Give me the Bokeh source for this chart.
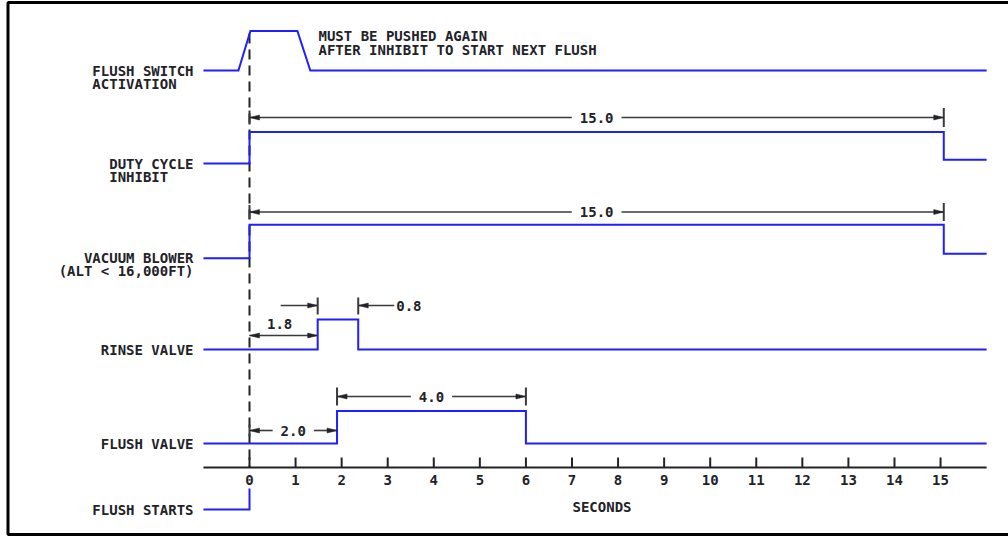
from bokeh.plotting import figure
from bokeh.models import Range1d
from bokeh.core.properties import value
from bokeh.embed import file_html
from bokeh.resources import INLINE

# ---------------- data (seconds / logic level) ----------------
flush_switch_t = [-1.0, -0.24, 0.02, 1.04, 1.32, 16.0]
flush_switch_v = [0, 0, 1, 1, 0, 0]
duty_cycle_t = [-1.0, 0.0, 0.0, 15.07, 15.07, 16.0]
duty_cycle_v = [0, 0, 1, 1, 0.12, 0.12]
vacuum_blower_t = [-1.0, 0.0, 0.0, 15.07, 15.07, 16.0]
vacuum_blower_v = [0, 0, 1, 1, 0.13, 0.13]
rinse_valve_t = [-1.0, 1.48, 1.48, 2.36, 2.36, 16.0]
rinse_valve_v = [0, 0, 1, 1, 0, 0]
flush_valve_t = [-1.0, 1.9, 1.9, 6.0, 6.0, 16.0]
flush_valve_v = [0, 0, 1, 1, 0, 0]
flush_starts_t = [-1.0, 0.0, 0.0]
flush_starts_v = [0, 0, 1]

signal_labels = [
    ["FLUSH SWITCH", "ACTIVATION"],
    ["DUTY CYCLE", "INHIBIT"],
    ["VACUUM BLOWER", "(ALT < 16,000FT)"],
    ["RINSE VALVE"],
    ["FLUSH VALVE"],
    ["FLUSH STARTS"],
]

tick_values = [0, 1, 2, 3, 4, 5, 6, 7, 8, 9, 10, 11, 12, 13, 14, 15]
tick_labels = ["0", "1", "2", "3", "4", "5", "6", "7", "8", "9",
               "10", "11", "12", "13", "14", "15"]
axis_start, axis_end = -1.0, 16.0
x_title = "SECONDS"

# dimensions: (start s, end s, label)
dim_duty = (0.0, 15.07, "15.0")
dim_vacuum = (0.0, 15.07, "15.0")
dim_rinse_on = (0.0, 1.48, "1.8")
dim_rinse_len = (1.48, 2.36, "0.8")
dim_flush_delay = (0.0, 1.9, "2.0")
dim_flush_len = (1.9, 6.0, "4.0")

note_lines = ["MUST BE PUSHED AGAIN", "AFTER INHIBIT TO START NEXT FLUSH"]

# ---------------- layout ----------------
W, H = 1008, 536
PX = 46.07          # pixels per second
X0 = 249.0          # pixel of t = 0


def sx(px):
    return (px - X0) / PX


BLUE = "#1f1fff"
INK = "#222228"
DIM = "#3a3a3a"
FONT = "DejaVu Sans Mono"
FS = 14
CW = 0.602 * FS     # monospace advance

p = figure(width=W, height=H, output_backend="svg", toolbar_location=None,
           x_range=Range1d(sx(0), sx(W)), y_range=Range1d(H, 0),
           x_axis_type=None, y_axis_type=None, min_border=0,
           outline_line_color=None, background_fill_color="white")
p.grid.visible = False

# frame border (left, top, bottom)
p.line(x=[sx(1015), sx(7.5), sx(7.5), sx(1015)], y=[2, 2, 534, 534],
       line_color="black", line_width=3)

# dashed reference line at t = 0 (drawn beneath the signals)
p.line(x=[0, 0], y=[33, 467], line_color=INK, line_width=2, line_dash="10 6")

# rows: (times, values, baseline px, amplitude px, label, 2nd-line align)
rows = [
    (flush_switch_t, flush_switch_v, 70.0, 39.5, signal_labels[0], "left"),
    (duty_cycle_t, duty_cycle_v, 163.0, 31.5, signal_labels[1], "left"),
    (vacuum_blower_t, vacuum_blower_v, 257.7, 33.4, signal_labels[2], "right"),
    (rinse_valve_t, rinse_valve_v, 349.0, 30.0, signal_labels[3], "right"),
    (flush_valve_t, flush_valve_v, 443.0, 32.5, signal_labels[4], "right"),
    (flush_starts_t, flush_starts_v, 509.0, 21.0, signal_labels[5], "right"),
]

LABEL_RIGHT = 193.0
for ts, vs, base, amp, lab, align2 in rows:
    p.line(x=ts, y=[base - v * amp for v in vs], line_color=BLUE,
           line_width=2, line_join="miter")
    p.text(x=[sx(LABEL_RIGHT)], y=[base], text=[lab[0]],
           text_font=value(FONT), text_font_size=f"{FS}px",
           text_font_style="bold", text_color=INK,
           text_align="right", text_baseline="middle")
    if len(lab) > 1:
        if align2 == "left":
            xl = LABEL_RIGHT - len(lab[0]) * CW
            p.text(x=[sx(xl)], y=[base + 13], text=[lab[1]],
                   text_font=value(FONT), text_font_size=f"{FS}px",
                   text_font_style="bold", text_color=INK,
                   text_align="left", text_baseline="middle")
        else:
            p.text(x=[sx(LABEL_RIGHT)], y=[base + 13], text=[lab[1]],
                   text_font=value(FONT), text_font_size=f"{FS}px",
                   text_font_style="bold", text_color=INK,
                   text_align="right", text_baseline="middle")

# annotation
for i, s in enumerate(note_lines):
    p.text(x=[sx(318)], y=[35.7 + 13.6 * i], text=[s],
           text_font=value(FONT), text_font_size=f"{FS}px",
           text_font_style="bold", text_color=INK,
           text_align="left", text_baseline="middle")

# ---------------- dimension helpers ----------------
HEAD_L, HEAD_W = 10.0, 5.0
heads_x, heads_y = [], []


def head(xtip, y, d):
    b = xtip - d * HEAD_L / PX
    heads_x.append([xtip, b, b])
    heads_y.append([y, y - HEAD_W / 2, y + HEAD_W / 2])


def seg(x0, y0, x1, y1, w=1.6):
    p.line(x=[x0, x1], y=[y0, y1], line_color=DIM, line_width=w)


def label(x, y, s, align="center"):
    p.text(x=[x], y=[y], text=[s], text_font=value(FONT),
           text_font_size=f"{FS}px", text_font_style="bold",
           text_color=INK, text_align=align, text_baseline="middle")


def dim_inline(d, y, ticks):
    a, b, s = d
    mid = (a + b) / 2
    gap = (len(s) * CW / 2 + 8) / PX
    seg(a, y, mid - gap, y)
    seg(mid + gap, y, b, y)
    head(a, y, -1)
    head(b, y, 1)
    label(mid, y, s)
    for t, h in ticks:
        seg(t, y - h, t, y + h, 2)


# duty cycle 15.0
dim_inline(dim_duty, 117, [(dim_duty[0], 7), (dim_duty[1], 9.5)])
# vacuum blower 15.0
dim_inline(dim_vacuum, 211.5, [(dim_vacuum[0], 7), (dim_vacuum[1], 9)])
# flush valve 4.0
dim_inline(dim_flush_len, 396, [(dim_flush_len[0], 9), (dim_flush_len[1], 9)])
# flush delay 2.0
dim_inline(dim_flush_delay, 430, [(dim_flush_delay[0], 6)])

# rinse on 1.8 (label above)
a, b, s = dim_rinse_on
seg(a, 335, b, 335)
head(a, 335, -1)
head(b, 335, 1)
label((a + b) / 2 - 4 / PX, 323.5, s)

# rinse length 0.8 (arrows outside)
a, b, s = dim_rinse_len
yy = 305
seg(a - 37 / PX, yy, a, yy)
head(a, yy, 1)
seg(b, yy, b + 36 / PX, yy)
head(b, yy, -1)
for t in (a, b):
    seg(t, 297, t, 314, 2)
label(b + 38 / PX, yy, s, "left")

p.patches(xs=heads_x, ys=heads_y, fill_color=INK, line_color=INK,
          line_width=0.5)

# ---------------- time axis ----------------
AX_Y = 467
p.line(x=[axis_start, axis_end], y=[AX_Y, AX_Y], line_color=INK, line_width=2)
p.segment(x0=tick_values, y0=[AX_Y - 10] * len(tick_values),
          x1=tick_values, y1=[AX_Y] * len(tick_values),
          line_color=INK, line_width=2)
p.text(x=tick_values, y=[479] * len(tick_values), text=tick_labels,
       text_font=value(FONT), text_font_size="14px", text_font_style="bold",
       text_color=INK, text_align="center", text_baseline="middle")
p.text(x=[sx(601.5)], y=[506.5], text=[x_title], text_font=value(FONT),
       text_font_size=f"{FS}px", text_font_style="bold", text_color=INK,
       text_align="center", text_baseline="middle")

open("out.html", "w").write(file_html(p, INLINE))
